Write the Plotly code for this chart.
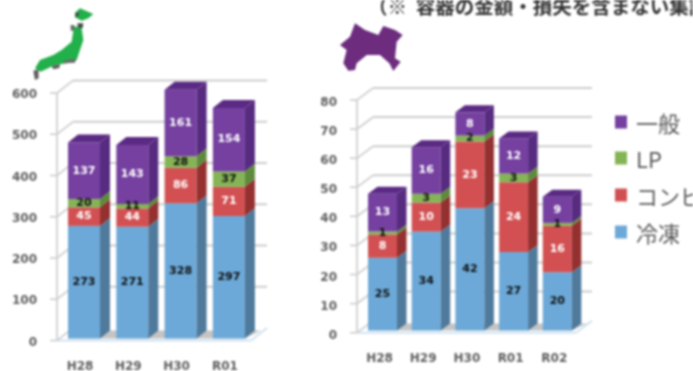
import plotly.graph_objects as go

W, H = 693, 371

series_names = ["冷凍", "コンビ", "LP", "一般"]
front_colors = ["#6CA9D8", "#D25052", "#84B455", "#7540A0"]
side_colors = ["#4F7A9C", "#94302F", "#5E8B3B", "#572B80"]
label_colors = ["#111111", "#FFFFFF", "#111111", "#FFFFFF"]

left_categories = ["H28", "H29", "H30", "R01"]
left_frozen = [273, 271, 328, 297]
left_combi = [45, 44, 86, 71]
left_lp = [20, 11, 28, 37]
left_general = [137, 143, 161, 154]
left_ticks = [0, 100, 200, 300, 400, 500, 600]

right_categories = ["H28", "H29", "H30", "R01", "R02"]
right_frozen = [25, 34, 42, 27, 20]
right_combi = [8, 10, 23, 24, 16]
right_lp = [1, 3, 2, 3, 1]
right_general = [13, 16, 8, 12, 9]
right_ticks = [0, 10, 20, 30, 40, 50, 60, 70, 80]

note_text = "（※  容器の金額・損失を含まない集計）"
FONT = "DejaVu Sans"
JP = "Noto Sans CJK JP"

fig = go.Figure()
shapes, annotations = [], []


def panel(suffix, cats, stacks, ticks, cfg):
    xname, yname = "x" + suffix, "y" + suffix
    ppx, ppv = cfg["pitch"], cfg["px_per_val"]
    x_of = lambda px: (px - cfg["first"]) / ppx
    v_of = lambda py: (cfg["y0"] - py) / ppv
    xs = list(range(len(cats)))
    half = cfg["bar"] / ppx / 2
    bdx, bdy = cfg["bar_dx"] / ppx, cfg["bar_dy"] / ppv
    wdx, wdy = cfg["wall_dx"] / ppx, cfg["wall_dy"] / ppv
    off = cfg["wall_off"] / ppv
    ax0 = x_of(cfg["axis_x"])
    ax1 = x_of(cfg["wall_end"] - cfg["wall_dx"])

    def seg(x0, y0, x1, y1, color, width):
        shapes.append(dict(type="line", xref=xname, yref=yname, x0=x0, y0=y0, x1=x1, y1=y1,
                           line=dict(color=color, width=width), layer="below"))

    # floor
    shapes.append(dict(type="path", xref=xname, yref=yname, layer="below", line=dict(width=0),
                       fillcolor="#C4C4C4",
                       path=f"M{-half},0 L{-half+bdx},{bdy} L{xs[-1]+half+bdx*1.6},{bdy} L{xs[-1]+half},0 Z"))
    seg(ax0, -off, ax1, -off, "#CFE2F2", 2)
    seg(ax1, -off, ax1 + wdx, wdy - off, "#CFE2F2", 2)
    # walls
    seg(ax0, -off, ax0, ticks[-1] - off, "#D4D4D4", 2)
    for t in ticks:
        v = t - off
        seg(ax0 - 7 / ppx, v, ax0, v, "#C8C8C8", 1.5)
        seg(ax0, v, ax0 + wdx, v + wdy, "#D4D4D4", 2)
        if t > 0:
            seg(ax0 + wdx, v + wdy, ax1 + wdx, v + wdy, "#CDCDCD", 2)

    base = [0] * len(cats)
    for s, vals in enumerate(stacks):
        fig.add_bar(x=xs, y=vals, base=base, width=2 * half, marker=dict(color=front_colors[s], line=dict(width=0)),
                    xaxis=xname, yaxis=yname, showlegend=False, hoverinfo="skip", name=series_names[s])
        tops = [b + v for b, v in zip(base, vals)]
        for i in xs:
            r = i + half
            fig.add_scatter(x=[r, r + bdx, r + bdx, r, r], y=[base[i], base[i] + bdy, tops[i] + bdy, tops[i], base[i]],
                            mode="lines", fill="toself", fillcolor=side_colors[s], line=dict(width=0),
                            xaxis=xname, yaxis=yname, showlegend=False, hoverinfo="skip")
        fig.add_scatter(x=xs, y=[b + v / 2 for b, v in zip(base, vals)], text=[str(v) for v in vals],
                        mode="text", textfont=dict(family=FONT, size=cfg["label"], color=label_colors[s], weight="bold"),
                        xaxis=xname, yaxis=yname, showlegend=False, hoverinfo="skip")
        base = tops
    for i in xs:
        l, r = i - half, i + half
        fig.add_scatter(x=[l, l + bdx, r + bdx, r, l], y=[base[i], base[i] + bdy, base[i] + bdy, base[i], base[i]],
                        mode="lines", fill="toself", fillcolor="#5B2A84", line=dict(width=0),
                        xaxis=xname, yaxis=yname, showlegend=False, hoverinfo="skip")

    dom_x = cfg["dom_x"]
    dom_y = cfg["dom_y"]
    xr = [x_of(dom_x[0]), x_of(dom_x[1])]
    yr = [v_of(dom_y[1]), v_of(dom_y[0])]
    tick_font = dict(family=FONT, size=cfg["tick"], color="#5E5E5E", weight="bold")
    fig.update_layout({
        ("xaxis" + suffix): dict(domain=[dom_x[0] / W, dom_x[1] / W], range=xr, tickvals=xs, ticktext=cats,
                                 showgrid=False, zeroline=False, showline=False, ticks="", tickfont=tick_font,
                                 anchor=yname, ticklabelstandoff=cfg["x_standoff"], ticklabelshift=cfg["x_shift"],
                                 fixedrange=True, automargin=False),
        ("yaxis" + suffix): dict(domain=[1 - dom_y[1] / H, 1 - dom_y[0] / H], range=yr, tickvals=ticks,
                                 showgrid=False, zeroline=False, showline=False, ticks="", tickfont=tick_font,
                                 anchor=xname, ticklabelstandoff=cfg["y_standoff"], ticklabelshift=cfg["y_shift"],
                                 fixedrange=True, automargin=False),
    })


panel("", left_categories, [left_frozen, left_combi, left_lp, left_general], left_ticks,
      dict(first=84, pitch=48.3, y0=338.5, px_per_val=247.5 / 600, bar=32, bar_dx=10, bar_dy=8, wall_dx=16, wall_dy=12.5,
           wall_off=2, axis_x=57, wall_end=267, dom_x=(50, 272), dom_y=(70, 345), label=11, tick=12,
           x_standoff=12, y_standoff=12, x_shift=-4, y_shift=3))
panel("2", right_categories, [right_frozen, right_combi, right_lp, right_general], right_ticks,
      dict(first=382.5, pitch=43.7, y0=330.5, px_per_val=232.7 / 80, bar=29, bar_dx=9.5, bar_dy=7, wall_dx=16, wall_dy=12,
           wall_off=2.2, axis_x=357, wall_end=592, dom_x=(350, 596), dom_y=(70, 340), label=11, tick=12,
           x_standoff=9, y_standoff=12, x_shift=-3, y_shift=4))


def paper_path(points):
    return "M" + " L".join(f"{x / W:.5f},{1 - y / H:.5f}" for x, y in points) + " Z"


def zoomed(points, ox, oy):
    return [(ox + x / 3, oy + y / 3) for x, y in points]


hokkaido = [(165, 38), (180, 25), (220, 42), (205, 55), (185, 62), (165, 52)]
honshu = [(162, 78), (185, 85), (190, 120), (180, 150), (170, 180), (140, 190), (105, 195), (62, 215), (45, 205),
          (60, 180), (100, 165), (125, 150), (155, 125), (160, 92)]
kyushu = [(40, 212), (55, 208), (56, 235), (45, 240)]
shikoku = [(95, 198), (120, 192), (118, 204), (100, 208)]
speck_a = [(165, 40), (178, 38), (176, 48), (166, 50)]
speck_b = [(172, 70), (190, 70), (188, 84), (174, 84)]
speck_c = [(130, 182), (168, 176), (165, 188), (132, 190)]
speck_d = [(152, 75), (162, 75), (162, 92), (152, 92)]
for poly, color in [(hokkaido, "#22B04A"), (honshu, "#22B04A"), (kyushu, "#5E5E5E"), (shikoku, "#5E5E5E"),
                    (speck_a, "#4A4A4A"), (speck_b, "#4A4A4A"), (speck_c, "#6A6A6A"), (speck_d, "#6A6A6A")]:
    shapes.append(dict(type="path", xref="paper", yref="paper", path=paper_path(zoomed(poly, 20, 0)),
                       fillcolor=color, line=dict(width=0), layer="above"))

kanagawa = [(30, 135), (60, 110), (75, 70), (105, 90), (145, 105), (160, 78), (195, 90), (218, 105), (200, 125),
            (195, 175), (212, 185), (190, 213), (178, 190), (150, 165), (110, 165), (80, 190), (75, 210), (55, 212),
            (40, 190), (50, 150)]
shapes.append(dict(type="path", xref="paper", yref="paper", path=paper_path(zoomed(kanagawa, 330, 0)),
                   fillcolor="#6D2C7E", line=dict(width=0), layer="above"))

# legend
legend_y = [232, 195, 158, 122]
for s, name in enumerate(series_names):
    y = legend_y[s]
    shapes.append(dict(type="rect", xref="paper", yref="paper", x0=615 / W, x1=627 / W,
                       y0=1 - (y + 6.5) / H, y1=1 - (y - 6.5) / H, fillcolor=front_colors[s], line=dict(width=0)))
    annotations.append(dict(xref="paper", yref="paper", x=634 / W, y=1 - y / H, xanchor="left", yanchor="middle",
                            text=name, showarrow=False, font=dict(family=JP, size=22, color="#5A5A5A")))

annotations.append(dict(xref="paper", yref="paper", x=366 / W, y=1 - 5 / H, xanchor="left", yanchor="middle",
                        text=note_text, showarrow=False, align="left",
                        font=dict(family=JP, size=19.5, color="#333333", weight="bold")))

fig.update_layout(width=W, height=H, margin=dict(l=0, r=0, t=0, b=0), paper_bgcolor="white", plot_bgcolor="white",
                  barmode="overlay", shapes=shapes, annotations=annotations, showlegend=False)
page_style = ("document.body.style.margin='0';document.documentElement.style.overflow='hidden';"
              "document.getElementById('{plot_id}').style.filter='blur(1px)';")
fig.write_html("out.html", config={"displayModeBar": False}, post_script=page_style)
